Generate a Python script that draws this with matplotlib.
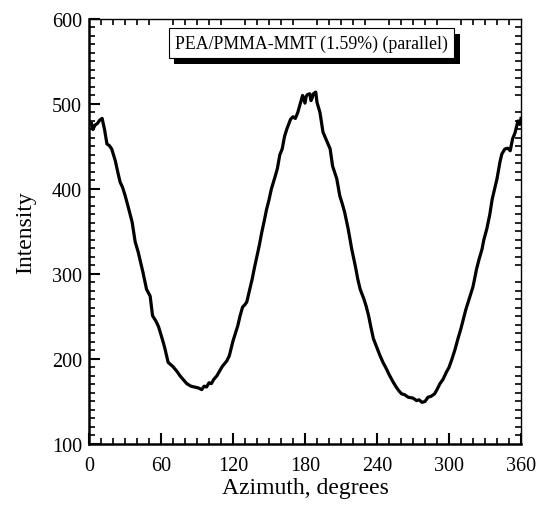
import matplotlib
matplotlib.use("Agg")
import matplotlib.pyplot as plt
import matplotlib.patheffects as pe
from matplotlib.ticker import MultipleLocator

azimuth = [0, 2, 3.3, 5, 7, 9, 11, 13, 15, 17, 19, 22, 24, 26, 28, 30, 32.5, 36, 38.5, 41, 45, 48, 51, 53,
           56, 58, 61, 63, 66, 70, 73, 76, 79, 81.5, 85, 88, 91, 94, 96, 98, 100, 102, 104, 106.5, 109, 111,
           115, 117, 120, 122, 124, 126, 128, 130, 131.5, 134, 136, 138, 140, 142, 144, 146, 148, 150, 152,
           155, 157, 159, 161, 163, 165, 168, 170, 172, 174, 176, 178, 180, 181, 182, 184, 185, 186, 187,
           189, 190, 192.5, 195, 198, 201, 203, 206.5, 209, 211, 213, 216, 219, 222, 224, 226, 229, 231,
           233, 235, 237, 240, 242.5, 245, 248, 250, 253, 256, 258, 260.5, 263, 266, 270, 273, 275, 277.5,
           280, 282.5, 285, 288, 290, 292.5, 295, 298, 300, 302.5, 305, 307.5, 310, 312, 314, 316, 318, 320,
           323, 325, 327.5, 329, 331.5, 334, 336, 338, 340, 342.5, 344, 346.5, 349, 351, 353, 355, 357.5, 359, 360]
intensity = [476, 478, 470, 475, 477, 481, 483, 470, 453, 451, 447, 433, 420, 408, 402, 393, 380, 361, 338, 326, 302, 282, 274, 251,
             244, 238, 224, 214, 196, 191, 186, 180, 175, 171, 168, 167, 166, 164, 168, 167, 172, 171, 176, 180, 186, 191,
             198, 204, 221, 230, 239, 251, 261, 264, 267, 282, 294, 308, 321, 334, 349, 362, 376, 387, 400,
             414, 424, 440, 447, 462, 471, 482, 485, 483, 490, 500, 510, 501, 509, 511, 512, 504, 507, 512,
             514, 502, 490, 467, 457, 447, 427, 412, 392, 383, 373, 353, 329, 309, 294, 282, 271, 262,
             251, 237, 224, 213, 204, 196, 188, 182, 174, 167, 163, 159, 158, 155, 154, 151, 152, 149,
             150, 155, 156, 159, 164, 171, 176, 185, 190, 200, 211, 224, 236, 247, 258, 267, 276, 285,
             306, 317, 329, 340, 353, 370, 388, 400, 412, 432, 441, 447, 448, 445, 459, 466, 480, 476, 483]

xticks = [0, 60, 120, 180, 240, 300, 360]
yticks = [100, 200, 300, 400, 500, 600]

plt.rcParams['font.family'] = ['Liberation Serif', 'DejaVu Serif']

fig = plt.figure(figsize=(5.39, 5.06), dpi=100)
ax = fig.add_axes([0.165, 0.1206, 0.8016, 0.8399])
ax.plot(azimuth, intensity, color='black', lw=2.3, solid_joinstyle='round')
ax.set_xlim(0, 360)
ax.set_ylim(100, 600)
ax.set_xticks(xticks)
ax.set_yticks(yticks)
ax.xaxis.set_minor_locator(MultipleLocator(10))
ax.yaxis.set_minor_locator(MultipleLocator(10))
ax.tick_params(axis='both', which='major', direction='in', length=8, width=1.5, labelsize=14.5,
               top=False, right=False)
ax.tick_params(axis='x', which='major', pad=9)
ax.tick_params(axis='y', which='major', pad=5)
ax.tick_params(axis='both', which='minor', direction='in', length=4.5, width=1.2, top=True, right=True)
for s in ['left', 'bottom']:
    ax.spines[s].set_linewidth(1.8)
for s in ['top', 'right']:
    ax.spines[s].set_linewidth(1.0)
ax.set_xlabel('Azimuth, degrees', fontsize=17, labelpad=1)
ax.set_ylabel('Intensity', fontsize=17, labelpad=11)

t = ax.text(0.515, 0.943, 'PEA/PMMA-MMT (1.59%) (parallel)', transform=ax.transAxes,
            ha='center', va='center', fontsize=12.8,
            bbox=dict(boxstyle='square,pad=0.35', fc='white', ec='black', lw=0.8))
t.get_bbox_patch().set_path_effects([pe.SimplePatchShadow(offset=(4, -4), shadow_rgbFace='black', alpha=1),
                                     pe.Normal()])

fig.savefig('out.png', dpi=100)
